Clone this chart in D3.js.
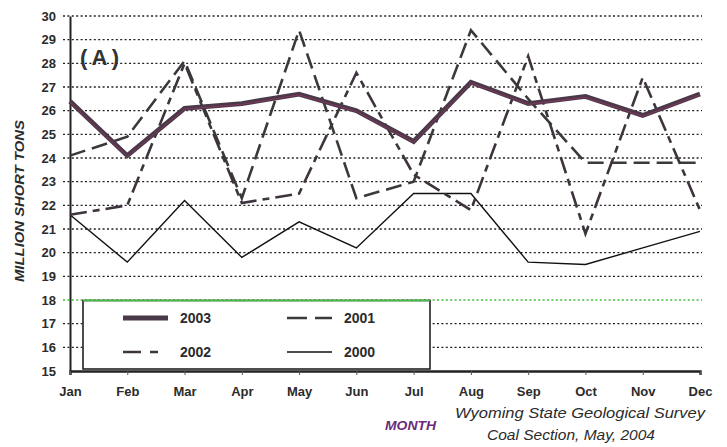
<!DOCTYPE html>
<html>
<head>
<meta charset="utf-8">
<script src="https://cdn.jsdelivr.net/npm/d3@7"></script>
<style>
  html, body { margin: 0; padding: 0; background: #fff; }
  svg { display: block; font-family: Arial, "Liberation Sans", sans-serif; }
</style>
</head>
<body>
<svg id="chart" width="727" height="447"></svg>
<script>
// Monthly coal production, million short tons
const months = ["Jan","Feb","Mar","Apr","May","Jun","Jul","Aug","Sep","Oct","Nov","Dec"];
const yTicks = [15,16,17,18,19,20,21,22,23,24,25,26,27,28,29,30];
const values2003 = [26.4, 24.1, 26.1, 26.3, 26.7, 26.0, 24.7, 27.2, 26.3, 26.6, 25.8, 26.7];
const values2002 = [21.6, 22.0, 28.0, 22.1, 22.5, 27.6, 23.3, 21.8, 28.3, 20.8, 27.4, 21.8];
const values2001 = [24.1, 24.9, 28.1, 22.3, 29.4, 22.3, 23.0, 29.4, 26.5, 23.8, 23.8, 23.8];
const values2000 = [21.6, 19.6, 22.2, 19.8, 21.3, 20.2, 22.5, 22.5, 19.6, 19.5, 20.2, 20.9];

const series = [
  {name: "2003", values: values2003, stroke: "#4a3949", width: 4.8, dash: null, inner: "#b8336a"},
  {name: "2002", values: values2002, stroke: "#3d343d", width: 2.6, dash: "17,6,7,6"},
  {name: "2001", values: values2001, stroke: "#3a3a3a", width: 2.6, dash: "16,7"},
  {name: "2000", values: values2000, stroke: "#111", width: 1.4, dash: null}
];

const svg = d3.select("#chart");
const plotLeft = 70, plotRight = 700, plotTop = 16, plotBottom = 371;

const x = d3.scalePoint().domain(months).range([plotLeft, plotRight]);
const y = d3.scaleLinear().domain([15, 30]).range([plotBottom, plotTop]);

// dotted horizontal gridlines
svg.append("g").selectAll("line").data(yTicks.filter(d => d > 15)).join("line")
  .attr("x1", 63).attr("x2", 702)
  .attr("y1", d => y(d)).attr("y2", d => y(d))
  .attr("stroke", d => d === 18 ? "#3fbf3f" : "#222")
  .attr("stroke-width", 1.4)
  .attr("stroke-dasharray", "2,2.4");

// y axis
const yAxis = svg.append("g").attr("transform", `translate(${plotLeft},0)`)
  .call(d3.axisLeft(y).tickValues(yTicks).tickSize(0).tickPadding(14).tickFormat(d3.format("d")));
yAxis.select(".domain").attr("stroke", "#222").attr("stroke-width", 2);
yAxis.selectAll("text").attr("font-size", 13).attr("font-weight", "bold").attr("fill", "#2b2b2b");

// line generator
const line = d3.line().x((d, i) => x(months[i])).y(d => y(d));

const plot = svg.append("g");
series.slice().reverse().forEach(s => {
  plot.append("path").datum(s.values)
    .attr("d", line).attr("fill", "none")
    .attr("stroke", s.stroke).attr("stroke-width", s.width)
    .attr("stroke-linejoin", "miter")
    .attr("stroke-dasharray", s.dash);
  if (s.inner) {
    plot.append("path").datum(s.values)
      .attr("d", line).attr("fill", "none")
      .attr("stroke", s.inner).attr("stroke-width", 1)
      .attr("stroke-opacity", 0.55)
      .attr("transform", "translate(0,0.8)");
  }
});

// legend box
const lg = svg.append("g");
const lx0 = 83, lx1 = 430, ly0 = 300.5, ly1 = 369;
lg.append("rect").attr("x", lx0).attr("y", ly0).attr("width", lx1 - lx0).attr("height", ly1 - ly0)
  .attr("fill", "#fff").attr("stroke", "#222").attr("stroke-width", 1.6);
lg.append("line").attr("x1", lx0).attr("x2", lx1).attr("y1", ly0).attr("y2", ly0)
  .attr("stroke", "#3fbf3f").attr("stroke-width", 1.6);

const legendPos = {
  "2003": [123, 318], "2002": [123, 352],
  "2001": [287, 318], "2000": [287, 352]
};
series.forEach(s => {
  const [px, py] = legendPos[s.name];
  lg.append("line").attr("x1", px).attr("x2", px + 45).attr("y1", py).attr("y2", py)
    .attr("stroke", s.stroke).attr("stroke-width", s.width)
    .attr("stroke-dasharray", s.name === "2002" ? "18,9,8,40" : s.name === "2001" ? "20,8" : null);
  lg.append("text").attr("x", px + 57).attr("y", py + 5)
    .attr("font-size", 14).attr("font-weight", "bold").attr("fill", "#2b2b2b")
    .text(s.name);
});

// x axis
const xAxis = svg.append("g").attr("transform", `translate(0,${plotBottom})`)
  .call(d3.axisBottom(x).tickSize(4).tickPadding(12));
xAxis.select(".domain").attr("stroke", "#222").attr("stroke-width", 2.4);
xAxis.selectAll(".tick line").attr("stroke", "#555").attr("stroke-width", 1);
xAxis.selectAll("text").attr("font-size", 13).attr("font-weight", "bold").attr("fill", "#2b2b2b");

// panel tag
svg.append("text").attr("x", 80).attr("y", 65)
  .attr("font-size", 22).attr("font-weight", "bold").attr("fill", "#333")
  .attr("textLength", 39).attr("lengthAdjust", "spacing")
  .text("(A)");

// axis titles and source note
svg.append("text")
  .attr("transform", "translate(24,201) rotate(-90)")
  .attr("text-anchor", "middle")
  .attr("font-size", 13).attr("font-weight", "bold").attr("font-style", "italic")
  .attr("fill", "#2b2b2b")
  .attr("textLength", 162).attr("lengthAdjust", "spacingAndGlyphs")
  .text("MILLION SHORT TONS");

svg.append("text").attr("x", 385).attr("y", 430)
  .attr("font-size", 12).attr("font-weight", "bold").attr("font-style", "italic")
  .attr("fill", "#6a2c7c")
  .attr("textLength", 51).attr("lengthAdjust", "spacingAndGlyphs")
  .text("MONTH");

svg.append("text").attr("x", 455).attr("y", 418)
  .attr("font-size", 14.5).attr("font-style", "italic").attr("fill", "#2b2b2b")
  .attr("textLength", 250).attr("lengthAdjust", "spacingAndGlyphs")
  .text("Wyoming State Geological Survey");

svg.append("text").attr("x", 487).attr("y", 440)
  .attr("font-size", 14.5).attr("font-style", "italic").attr("fill", "#2b2b2b")
  .attr("textLength", 168).attr("lengthAdjust", "spacingAndGlyphs")
  .text("Coal Section, May, 2004");
</script>
</body>
</html>
